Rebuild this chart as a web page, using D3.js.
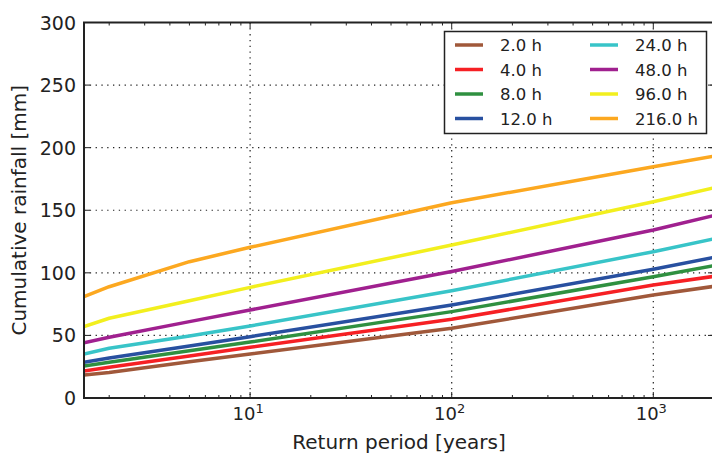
<!DOCTYPE html>
<html>
<head>
<meta charset="utf-8">
<script src="https://cdn.jsdelivr.net/npm/d3@7"></script>
<style>
  body { margin: 0; background: #fff; }
  svg { display: block; font-family: 'DejaVu Sans', sans-serif; }
</style>
</head>
<body>
<div id="chart"></div>
<script>
// return periods (years) and cumulative rainfall (mm) per duration
var returnPeriods = [1.5, 2, 5, 10, 100, 1000, 2000];
var durations = ['2.0 h', '4.0 h', '8.0 h', '12.0 h', '24.0 h', '48.0 h', '96.0 h', '216.0 h'];
var rain2h   = [18.4, 20.3, 29.0, 35.2, 55.7, 82.3, 89.2];
var rain4h   = [21.6, 24.5, 33.6, 40.5, 62.9, 90.3, 97.2];
var rain8h   = [25.6, 28.5, 37.8, 44.7, 69.0, 96.9, 105.8];
var rain12h  = [28.5, 32.0, 41.5, 49.0, 74.3, 102.8, 112.4];
var rain24h  = [35.2, 39.8, 49.5, 57.5, 85.7, 116.9, 127.2];
var rain48h  = [44.2, 48.6, 61.0, 70.3, 101.0, 134.2, 145.8];
var rain96h  = [57.0, 63.7, 77.7, 88.4, 122.2, 156.8, 167.9];
var rain216h = [80.9, 88.9, 108.9, 120.4, 156.0, 184.8, 193.2];
var lineColors = ['#a0583a', '#f62024', '#2f9040', '#2850a0', '#38c4c8', '#a0208f', '#f2ef1e', '#fca820'];
var yTicks = [0, 50, 100, 150, 200, 250, 300];
var xMajor = [10, 100, 1000];

var series = [rain2h, rain4h, rain8h, rain12h, rain24h, rain48h, rain96h, rain216h];

var W = 712, H = 454;
var pLeft = 84, pRight = 714, pTop = 22.5, pBottom = 398;

var svg = d3.select('#chart').append('svg')
  .attr('width', W).attr('height', H);

var x = d3.scaleLog().domain([1.5, 2000]).range([pLeft, pRight]);
var y = d3.scaleLinear().domain([0, 300]).range([pBottom, pTop]);

// grid
var grid = svg.append('g');
grid.selectAll('line.gy').data(yTicks.filter(function(d) { return d > 0 && d < 300; }))
  .enter().append('line')
  .attr('x1', pLeft).attr('x2', pRight)
  .attr('y1', function(d) { return y(d); }).attr('y2', function(d) { return y(d); })
  .attr('stroke', '#222').attr('stroke-width', 1.2).attr('stroke-dasharray', '1.3,4.5');
grid.selectAll('line.gx').data(xMajor)
  .enter().append('line')
  .attr('y1', pTop).attr('y2', pBottom)
  .attr('x1', function(d) { return x(d); }).attr('x2', function(d) { return x(d); })
  .attr('stroke', '#222').attr('stroke-width', 1.2).attr('stroke-dasharray', '1.3,4.5');

// lines
var line = d3.line()
  .x(function(d, i) { return x(returnPeriods[i]); })
  .y(function(d) { return y(d); });

svg.append('defs').append('clipPath').attr('id', 'clip')
  .append('rect').attr('x', pLeft).attr('y', pTop).attr('width', pRight - pLeft).attr('height', pBottom - pTop);

svg.append('g').attr('clip-path', 'url(#clip)')
  .selectAll('path').data(series).enter().append('path')
  .attr('d', line)
  .attr('fill', 'none')
  .attr('stroke', function(d, i) { return lineColors[i]; })
  .attr('stroke-width', 3.5)
  .attr('stroke-linejoin', 'round');

// ticks (inward, all sides)
var ticks = svg.append('g').attr('stroke', '#222').attr('stroke-width', 1);
var minor = [];
[1, 10, 100, 1000].forEach(function(dec) {
  for (var k = 2; k <= 9; k++) {
    var v = dec * k;
    if (v >= 1.5 && v <= 2000 && xMajor.indexOf(v) < 0) minor.push(v);
  }
});
xMajor.forEach(function(v) {
  ticks.append('line').attr('x1', x(v)).attr('x2', x(v)).attr('y1', pBottom).attr('y2', pBottom - 6);
  ticks.append('line').attr('x1', x(v)).attr('x2', x(v)).attr('y1', pTop).attr('y2', pTop + 6);
});
minor.forEach(function(v) {
  ticks.append('line').attr('x1', x(v)).attr('x2', x(v)).attr('y1', pBottom).attr('y2', pBottom - 3);
  ticks.append('line').attr('x1', x(v)).attr('x2', x(v)).attr('y1', pTop).attr('y2', pTop + 3);
});
yTicks.forEach(function(v) {
  ticks.append('line').attr('x1', pLeft).attr('x2', pLeft + 6).attr('y1', y(v)).attr('y2', y(v));
  ticks.append('line').attr('x1', pRight).attr('x2', pRight - 6).attr('y1', y(v)).attr('y2', y(v));
});

// frame
svg.append('rect')
  .attr('x', pLeft).attr('y', pTop).attr('width', pRight - pLeft).attr('height', pBottom - pTop)
  .attr('fill', 'none').attr('stroke', '#222').attr('stroke-width', 2);

// y tick labels
svg.selectAll('text.yt').data(yTicks).enter().append('text')
  .attr('x', 76).attr('y', function(d) { return y(d) + 7; })
  .attr('text-anchor', 'end').attr('font-size', 19).attr('fill', '#222')
  .text(function(d) { return d; });

// x tick labels 10^n
xMajor.forEach(function(v, i) {
  var t = svg.append('text')
    .attr('x', x(v) - 2).attr('y', 420)
    .attr('text-anchor', 'middle').attr('font-size', 18).attr('fill', '#222');
  t.append('tspan').text('10');
  t.append('tspan').attr('font-size', 13).attr('dy', -7).text(String(i + 1));
});

// axis labels
svg.append('text')
  .attr('x', (pLeft + 714) / 2).attr('y', 449)
  .attr('text-anchor', 'middle').attr('font-size', 20).attr('fill', '#222')
  .text('Return period [years]');
svg.append('text')
  .attr('transform', 'translate(26,' + ((pTop + pBottom) / 2) + ') rotate(-90)')
  .attr('text-anchor', 'middle').attr('font-size', 20).attr('fill', '#222')
  .text('Cumulative rainfall [mm]');

// legend
var lg = svg.append('g');
lg.append('rect')
  .attr('x', 444.5).attr('y', 31.5).attr('width', 262).attr('height', 102)
  .attr('fill', '#fff').attr('stroke', '#222').attr('stroke-width', 1.5);
durations.forEach(function(name, i) {
  var col = Math.floor(i / 4), row = i % 4;
  var lx = 455 + col * 135, ly = 45 + row * 24.5;
  lg.append('line')
    .attr('x1', lx).attr('x2', lx + 28).attr('y1', ly).attr('y2', ly)
    .attr('stroke', lineColors[i]).attr('stroke-width', 3.5);
  lg.append('text')
    .attr('x', lx + 45).attr('y', ly + 6)
    .attr('font-size', 16.5).attr('fill', '#222')
    .text(name);
});
</script>
</body>
</html>
